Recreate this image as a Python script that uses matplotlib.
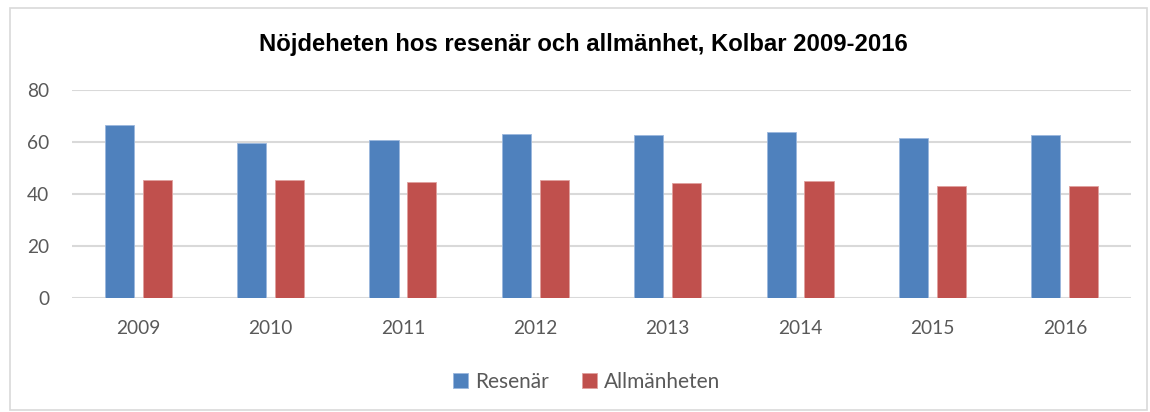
import matplotlib
matplotlib.use("Agg")
import matplotlib.pyplot as plt
import numpy as np
from matplotlib.patches import Rectangle

years = ["2009", "2010", "2011", "2012", "2013", "2014", "2015", "2016"]
resenar = [66.5, 59.5, 60.6, 62.9, 62.8, 64.0, 61.7, 62.8]
allmanheten = [45.3, 45.4, 44.6, 45.3, 44.1, 44.9, 42.9, 42.9]
yticks = [0, 20, 40, 60, 80]

W, H = 1150, 412
fig = plt.figure(figsize=(W / 100, H / 100), dpi=100)
fig.patch.set_facecolor("white")

# outer chart border
fig.add_artist(Rectangle((10 / W, 2 / H), 1137 / W, 402 / H, transform=fig.transFigure,
                         fill=False, edgecolor="#d9d9d9", linewidth=1.2))

ax = fig.add_axes([72 / W, (H - 298) / H, (1131 - 72) / W, 208 / H])
x = np.arange(len(years))
bw = 0.22
off = 0.143
ax.bar(x - off, resenar, bw, color="#4F81BD", edgecolor="#9bb7dd", linewidth=0.6,
       label="Resenär", zorder=3)
ax.bar(x + off, allmanheten, bw, color="#C0504D", edgecolor="#e0a09e", linewidth=0.6,
       label="Allmänheten", zorder=3)

ax.set_xlim(-0.5, len(years) - 0.5)
ax.set_ylim(0, 80)
ax.set_yticks(yticks)
ax.set_xticks(x)
ax.set_xticklabels(years)
ax.yaxis.grid(True, color="#d9d9d9", linewidth=1.5, zorder=0)
ax.set_axisbelow(True)
for s in ["top", "right", "left", "bottom"]:
    ax.spines[s].set_visible(False)
ax.tick_params(axis="both", length=0, labelsize=13.8, labelcolor="#595959")
ax.tick_params(axis="y", pad=16.5)
ax.tick_params(axis="x", pad=16)
for lbl in ax.get_xticklabels() + ax.get_yticklabels():
    lbl.set_family("Lato")

fig.text(583 / W, (H - 45) / H, "Nöjdeheten hos resenär och allmänhet, Kolbar 2009-2016",
         ha="center", va="center", fontsize=17.2, fontweight="bold",
         family="Liberation Sans", color="black")

leg = fig.legend(loc="center", bbox_to_anchor=(587 / W, (H - 382) / H), ncol=2, frameon=False,
                 prop={"family": "Lato", "size": 15}, handlelength=0.7, handleheight=0.7,
                 handletextpad=0.35, columnspacing=1.6)
for t in leg.get_texts():
    t.set_color("#595959")

fig.savefig("out.png", dpi=100, facecolor="white")
